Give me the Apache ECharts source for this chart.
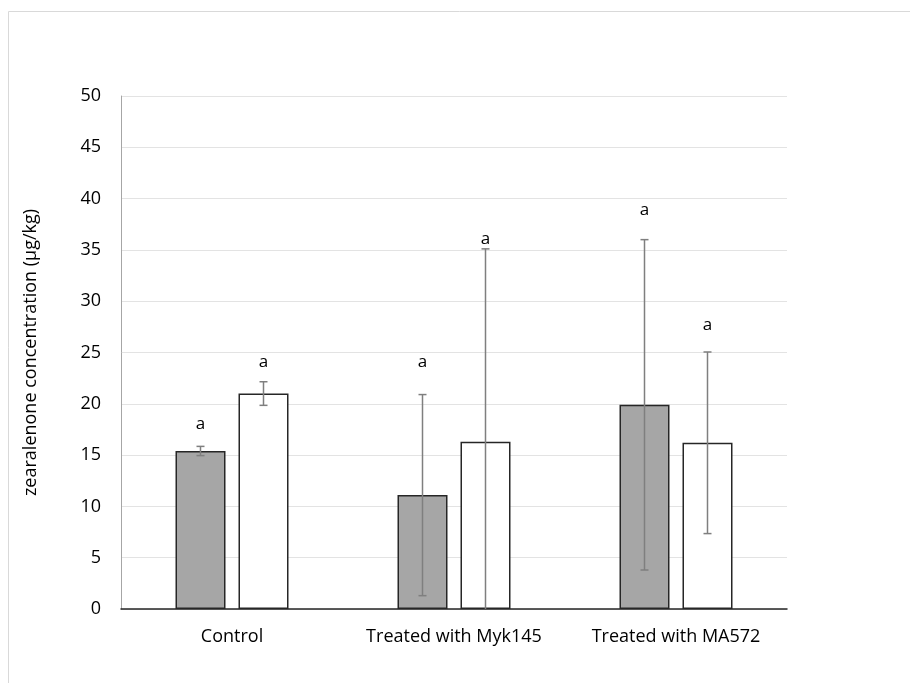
<!DOCTYPE html>
<html>
<head>
<meta charset="utf-8">
<script src="https://cdn.jsdelivr.net/npm/echarts@6/dist/echarts.min.js"></script>
<style>
  html, body { margin: 0; padding: 0; background: #fff; }
  #chart { width: 910px; height: 683px; }
</style>
</head>
<body>
<div id="chart"></div>
<script>
const categories = ['Control', 'Treated with Myk145', 'Treated with MA572'];
const grayValues = [15.4, 11.1, 19.9];
const whiteValues = [21.0, 16.3, 16.2];
const grayErrors = [0.45, 9.8, 16.1];
const whiteErrors = [1.15, 18.8, 8.85];
const grayLetters = ['a', 'a', 'a'];
const whiteLetters = ['a', 'a', 'a'];
// height (in µg/kg) where each significance letter sits
const grayLetterAt = [18.0, 24.1, 38.9];
const whiteLetterAt = [24.1, 36.0, 27.7];
const yTicks = [0, 5, 10, 15, 20, 25, 30, 35, 40, 45, 50];

const FONT = '"Open Sans", "Noto Sans", sans-serif';
const BAR_W = 50;
const GAP = 13;
const SHIFT = (BAR_W + GAP) / 2;

const chart = echarts.init(document.getElementById('chart'));

const errorSeries = (values, errors, dir) => ({
  type: 'custom',
  silent: true,
  clip: true,
  z: 5,
  data: values.map((v, i) => [i, v, errors[i]]),
  renderItem: (params, api) => {
    const i = api.value(0), v = api.value(1), e = api.value(2);
    const top = api.coord([i, v + e]);
    const bot = api.coord([i, Math.max(0, v - e)]);
    const x = top[0] + dir * SHIFT;
    const style = { stroke: '#7f7f7f', lineWidth: 1.5 };
    const kids = [
      { type: 'line', shape: { x1: x, y1: top[1], x2: x, y2: bot[1] }, style },
      { type: 'line', shape: { x1: x - 4, y1: top[1], x2: x + 4, y2: top[1] }, style }
    ];
    if (v - e > 0) {
      kids.push({ type: 'line', shape: { x1: x - 4, y1: bot[1], x2: x + 4, y2: bot[1] }, style });
    }
    return { type: 'group', children: kids };
  }
});

const letterSeries = (letters, at, dir) => ({
  type: 'custom',
  silent: true,
  z: 6,
  data: at.map((v, i) => [i, v]),
  renderItem: (params, api) => {
    const p = api.coord([api.value(0), api.value(1)]);
    return {
      type: 'text',
      x: p[0] + dir * SHIFT,
      y: p[1],
      style: {
        text: letters[params.dataIndex],
        fill: '#000',
        font: '17px ' + FONT,
        align: 'center',
        verticalAlign: 'middle'
      }
    };
  }
});

chart.setOption({
  animation: false,
  graphic: [{
    type: 'rect',
    shape: { x: 8.5, y: 11.5, width: 1000, height: 1000 },
    style: { fill: 'none', stroke: '#d9d9d9', lineWidth: 1 },
    silent: true
  }],
  grid: { left: 121, right: 123, top: 96, bottom: 74 },
  xAxis: {
    type: 'category',
    data: categories,
    axisLine: { lineStyle: { color: '#262626', width: 1.5 } },
    axisTick: { show: false },
    axisLabel: {
      color: '#000', fontFamily: FONT, fontSize: 18, margin: 19,
      interval: 0, hideOverlap: false
    }
  },
  yAxis: {
    type: 'value',
    min: 0,
    max: 50,
    interval: 5,
    name: 'zearalenone concentration (µg/kg)',
    nameLocation: 'middle',
    nameGap: 81,
    nameTextStyle: { color: '#000', fontFamily: FONT, fontSize: 18 },
    axisLine: { show: true, lineStyle: { color: '#a6a6a6', width: 1 } },
    axisTick: { show: false },
    splitLine: { lineStyle: { color: '#e3e3e3', width: 1 } },
    axisLabel: {
      color: '#000', fontFamily: FONT, fontSize: 18, margin: 20,
      formatter: (v) => (yTicks.includes(v) ? String(v) : '')
    }
  },
  series: [
    {
      type: 'bar',
      data: grayValues,
      barWidth: BAR_W,
      barGap: (GAP / BAR_W * 100) + '%',
      itemStyle: { color: '#a6a6a6', borderColor: '#262626', borderWidth: 1.5 }
    },
    {
      type: 'bar',
      data: whiteValues,
      barWidth: BAR_W,
      itemStyle: { color: '#ffffff', borderColor: '#262626', borderWidth: 1.5 }
    },
    errorSeries(grayValues, grayErrors, -1),
    errorSeries(whiteValues, whiteErrors, 1),
    letterSeries(grayLetters, grayLetterAt, -1),
    letterSeries(whiteLetters, whiteLetterAt, 1)
  ]
});
</script>
</body>
</html>
